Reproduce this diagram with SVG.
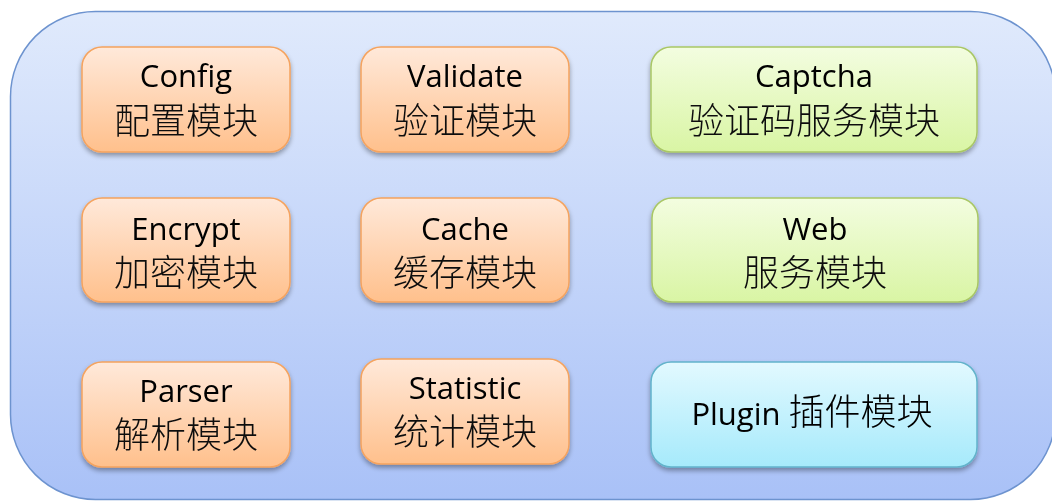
<svg xmlns="http://www.w3.org/2000/svg" width="1052" height="504" viewBox="0 0 1052 504">
<defs>
<linearGradient id="bg" x1="0" y1="0" x2="0" y2="1"><stop offset="0" stop-color="#e0eafc"/><stop offset="1" stop-color="#a9c1f7"/></linearGradient>
<linearGradient id="or" x1="0" y1="0" x2="0" y2="1"><stop offset="0" stop-color="#ffe9da"/><stop offset="1" stop-color="#ffc08c"/></linearGradient>
<linearGradient id="gr" x1="0" y1="0" x2="0" y2="1"><stop offset="0" stop-color="#f3fde0"/><stop offset="1" stop-color="#d9f5a4"/></linearGradient>
<linearGradient id="cy" x1="0" y1="0" x2="0" y2="1"><stop offset="0" stop-color="#e2f9ff"/><stop offset="1" stop-color="#a6eafb"/></linearGradient>
<filter id="sh" x="-10%" y="-10%" width="120%" height="130%"><feGaussianBlur in="SourceAlpha" stdDeviation="2.5"/><feOffset dx="0" dy="3"/><feComponentTransfer><feFuncA type="linear" slope="0.35"/></feComponentTransfer><feMerge><feMergeNode/><feMergeNode in="SourceGraphic"/></feMerge></filter>
</defs>
<style>
.o{fill:url(#or);stroke:#f5a35e;stroke-width:1.5}
.g{fill:url(#gr);stroke:#a9c765;stroke-width:1.5}
.c{fill:url(#cy);stroke:#62b3cb;stroke-width:1.5}
.en{font-family:"Open Sans","Noto Sans CJK SC",sans-serif;font-size:31px;fill:#000;text-anchor:middle}
.zh{font-family:"Noto Sans CJK SC",sans-serif;font-size:36px;font-weight:300;fill:#111;text-anchor:middle}
</style>
<rect x="10.5" y="11.5" width="1045" height="488" rx="85" ry="85" fill="url(#bg)" stroke="#6d93cf" stroke-width="1.5"/>
<g id="config" filter="url(#sh)"><rect class="o" x="82" y="47" width="208" height="105" rx="20"/><text class="en" x="186" y="87">Config</text><text class="zh" x="186" y="134">配置模块</text></g>
<g id="validate" filter="url(#sh)"><rect class="o" x="361" y="47" width="208" height="105" rx="20"/><text class="en" x="465" y="87">Validate</text><text class="zh" x="465" y="134">验证模块</text></g>
<g id="captcha" filter="url(#sh)"><rect class="g" x="651" y="47" width="326" height="105" rx="20"/><text class="en" x="814" y="87">Captcha</text><text class="zh" x="814" y="134">验证码服务模块</text></g>
<g id="encrypt" filter="url(#sh)"><rect class="o" x="82" y="198" width="208" height="104" rx="20"/><text class="en" x="186" y="240">Encrypt</text><text class="zh" x="186" y="286">加密模块</text></g>
<g id="cache" filter="url(#sh)"><rect class="o" x="361" y="198" width="208" height="104" rx="20"/><text class="en" x="465" y="240">Cache</text><text class="zh" x="465" y="286">缓存模块</text></g>
<g id="web" filter="url(#sh)"><rect class="g" x="652" y="198" width="326" height="104" rx="20"/><text class="en" x="815" y="240">Web</text><text class="zh" x="815" y="286">服务模块</text></g>
<g id="parser" filter="url(#sh)"><rect class="o" x="82" y="362" width="208" height="105" rx="20"/><text class="en" x="186" y="402">Parser</text><text class="zh" x="186" y="448">解析模块</text></g>
<g id="statistic" filter="url(#sh)"><rect class="o" x="361" y="359" width="208" height="105" rx="20"/><text class="en" x="465" y="399">Statistic</text><text class="zh" x="465" y="445">统计模块</text></g>
<g id="plugin" filter="url(#sh)"><rect class="c" x="651" y="362" width="326" height="105" rx="20"/><text class="en" x="812" y="425">Plugin <tspan style="font-family:'Noto Sans CJK SC',sans-serif;font-size:36px;font-weight:300">插件模块</tspan></text></g>
<g id="connectors"/>
</svg>
